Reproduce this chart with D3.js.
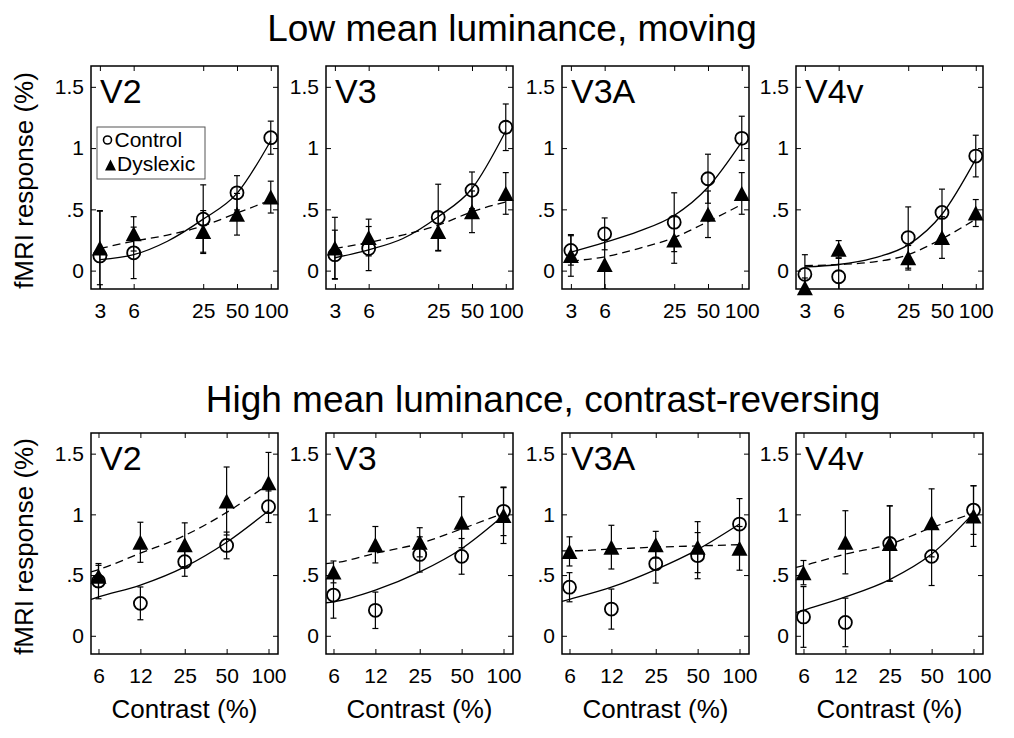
<!DOCTYPE html>
<html><head><meta charset="utf-8">
<script src="https://cdn.jsdelivr.net/npm/d3@7"></script>
<style>
html,body{margin:0;padding:0;background:#fff;}
svg{display:block;font-family:"Liberation Sans",Arial,Helvetica,sans-serif;}
</style></head>
<body>
<svg id="chart" width="1014" height="738"></svg>
<script>
// ---------------- data ----------------
const areas = ["V2", "V3", "V3A", "V4v"];
const rowTitles = ["Low mean luminance, moving", "High mean luminance, contrast-reversing"];
const yTicks = [0, 0.5, 1, 1.5];
const yTickLabels = ["0", ".5", "1", "1.5"];
const topContrasts = [3, 6, 25, 50, 100];
const topTickLabels = ["3", "6", "25", "50", "100"];
const bottomContrasts = [6, 12, 25, 50, 100];
const bottomTickLabels = ["6", "12", "25", "50", "100"];
const seriesNames = ["Control", "Dyslexic"];

// Top row (low mean luminance, moving)
const topControlMean = [
  [0.12, 0.145, 0.42, 0.635, 1.085],
  [0.13, 0.18, 0.435, 0.655, 1.17],
  [0.165, 0.30, 0.395, 0.75, 1.08],
  [-0.03, -0.05, 0.27, 0.475, 0.935]
];
const topControlErr = [
  [0.37, 0.21, 0.28, 0.14, 0.135],
  [0.20, 0.18, 0.27, 0.15, 0.19],
  [0.12, 0.13, 0.24, 0.20, 0.18],
  [0.16, 0.15, 0.25, 0.19, 0.17]
];
const topDyslexicMean = [
  [0.185, 0.30, 0.32, 0.46, 0.60],
  [0.185, 0.27, 0.32, 0.48, 0.63],
  [0.124, 0.05, 0.25, 0.46, 0.63],
  [-0.14, 0.175, 0.105, 0.27, 0.47]
];
const topDyslexicErr = [
  [0.30, 0.14, 0.17, 0.17, 0.13],
  [0.25, 0.15, 0.16, 0.17, 0.17],
  [0.17, 0.20, 0.19, 0.19, 0.17],
  [0.08, 0.07, 0.10, 0.17, 0.11]
];
const topFitContrasts = [3, 6, 12, 25, 50, 100];
const topControlFit = [
  [0.09, 0.13, 0.24, 0.42, 0.63, 1.06],
  [0.105, 0.17, 0.26, 0.44, 0.67, 1.14],
  [0.15, 0.23, 0.32, 0.45, 0.68, 1.05],
  [0.03, 0.05, 0.10, 0.21, 0.46, 0.91]
];
const topDyslexicFit = [
  [0.18, 0.24, 0.29, 0.365, 0.47, 0.575],
  [0.18, 0.23, 0.29, 0.37, 0.48, 0.56],
  [0.078, 0.113, 0.18, 0.27, 0.40, 0.54],
  [0.04, 0.05, 0.07, 0.13, 0.26, 0.42]
];

// Bottom row (high mean luminance, contrast-reversing)
const bottomControlMean = [
  [0.45, 0.267, 0.61, 0.744, 1.063],
  [0.335, 0.21, 0.67, 0.654, 1.025],
  [0.40, 0.22, 0.594, 0.66, 0.92],
  [0.155, 0.11, 0.76, 0.654, 1.035]
];
const bottomControlErr = [
  [0.145, 0.135, 0.12, 0.11, 0.13],
  [0.19, 0.15, 0.145, 0.147, 0.20],
  [0.12, 0.165, 0.16, 0.19, 0.21],
  [0.25, 0.20, 0.31, 0.24, 0.20]
];
const bottomDyslexicMean = [
  [0.49, 0.77, 0.75, 1.11, 1.26],
  [0.526, 0.75, 0.77, 0.935, 0.99],
  [0.695, 0.73, 0.75, 0.73, 0.72],
  [0.52, 0.77, 0.76, 0.93, 0.986]
];
const bottomDyslexicErr = [
  [0.09, 0.165, 0.18, 0.28, 0.25],
  [0.09, 0.15, 0.12, 0.21, 0.23],
  [0.12, 0.18, 0.11, 0.21, 0.18],
  [0.10, 0.26, 0.31, 0.28, 0.25]
];
const bottomFitContrasts = [5.3, 6, 12, 25, 50, 100];
const bottomControlFit = [
  [0.30, 0.32, 0.417, 0.567, 0.77, 1.03],
  [0.272, 0.28, 0.376, 0.526, 0.717, 0.99],
  [0.283, 0.30, 0.40, 0.545, 0.71, 0.92],
  [0.19, 0.21, 0.32, 0.463, 0.673, 1.01]
];
const bottomDyslexicFit = [
  [0.526, 0.545, 0.68, 0.826, 1.016, 1.25],
  [0.594, 0.60, 0.68, 0.76, 0.88, 1.01],
  [0.70, 0.70, 0.714, 0.73, 0.74, 0.75],
  [0.564, 0.578, 0.673, 0.755, 0.89, 1.01]
];

// ---------------- layout ----------------
const svg = d3.select("#chart");
const FONT = '"Liberation Sans",Arial,Helvetica,sans-serif';
const panelLefts = [91, 326, 562, 796];
const panelW = 187;
const rows = [
  {top: 66, h: 223, xDomain: [2.5, 116], contrasts: topContrasts, tickLabels: topTickLabels,
   cMean: topControlMean, cErr: topControlErr, dMean: topDyslexicMean, dErr: topDyslexicErr,
   fitX: topFitContrasts, cFit: topControlFit, dFit: topDyslexicFit,
   titleY: 41, labelPad: 14, xlabel: false},
  {top: 433, h: 221, xDomain: [5.3, 117], contrasts: bottomContrasts, tickLabels: bottomTickLabels,
   cMean: bottomControlMean, cErr: bottomControlErr, dMean: bottomDyslexicMean, dErr: bottomDyslexicErr,
   fitX: bottomFitContrasts, cFit: bottomControlFit, dFit: bottomDyslexicFit,
   titleY: 412, labelPad: 14, xlabel: true}
];
const yDomain = [-0.15, 1.67];

const triPath = (w, h) => `M0,${-h/2}L${w/2},${h/2}L${-w/2},${h/2}Z`;

rows.forEach((row, ri) => {
  svg.append("text")
    .attr("x", ri === 0 ? 512 : 543).attr("y", row.titleY)
    .attr("text-anchor", "middle")
    .style("font-size", "37px").style("font-family", FONT)
    .text(rowTitles[ri]);

  svg.append("text")
    .attr("transform", `translate(33,${row.top + row.h/2 + 3}) rotate(-90)`)
    .attr("text-anchor", "middle")
    .style("font-size", "26px").style("font-family", FONT)
    .text("fMRI response (%)");

  areas.forEach((area, pi) => {
    const x = d3.scaleLog().domain(row.xDomain).range([0, panelW]);
    const y = d3.scaleLinear().domain(yDomain).range([row.h, 0]);
    const g = svg.append("g").attr("transform", `translate(${panelLefts[pi]},${row.top})`);
    const clipId = `clip-${ri}-${pi}`;
    g.append("clipPath").attr("id", clipId)
      .append("rect").attr("x", 0).attr("y", 0).attr("width", panelW).attr("height", row.h);

    // axes (inward ticks on all four sides)
    const left = g.append("g").call(d3.axisLeft(y).tickValues(yTicks)
      .tickFormat((d, i) => yTickLabels[i]).tickSizeInner(-5).tickSizeOuter(0).tickPadding(7));
    const right = g.append("g").attr("transform", `translate(${panelW},0)`)
      .call(d3.axisRight(y).tickValues(yTicks).tickFormat("").tickSizeInner(-5).tickSizeOuter(0));
    const bottom = g.append("g").attr("transform", `translate(0,${row.h})`)
      .call(d3.axisBottom(x).tickValues(row.contrasts)
        .tickFormat((d, i) => row.tickLabels[i]).tickSizeInner(-5).tickSizeOuter(0).tickPadding(row.labelPad));
    const topAx = g.append("g")
      .call(d3.axisTop(x).tickValues(row.contrasts).tickFormat("").tickSizeInner(-5).tickSizeOuter(0));
    [left, right, bottom, topAx].forEach(a => {
      a.select(".domain").remove();
      a.selectAll(".tick line").attr("stroke", "#000").attr("stroke-width", 1);
      a.selectAll(".tick text").style("font-size", "21px").style("font-family", FONT).attr("fill", "#000");
    });

    // box
    g.append("rect").attr("x", 0).attr("y", 0).attr("width", panelW).attr("height", row.h)
      .attr("fill", "none").attr("stroke", "#000").attr("stroke-width", 1.5);

    // fit curves
    const plot = g.append("g").attr("clip-path", `url(#${clipId})`);
    const line = d3.line().x(d => x(d[0])).y(d => y(d[1])).curve(d3.curveMonotoneX);
    plot.append("path").datum(row.fitX.map((c, i) => [c, row.cFit[pi][i]]))
      .attr("d", line).attr("fill", "none").attr("stroke", "#000").attr("stroke-width", 1.3);
    plot.append("path").datum(row.fitX.map((c, i) => [c, row.dFit[pi][i]]))
      .attr("d", line).attr("fill", "none").attr("stroke", "#000").attr("stroke-width", 1.3)
      .attr("stroke-dasharray", "8,5");

    // error bars
    const series = [
      {mean: row.cMean[pi], err: row.cErr[pi]},
      {mean: row.dMean[pi], err: row.dErr[pi]}
    ];
    series.forEach(s => {
      row.contrasts.forEach((c, i) => {
        const cx = x(c), y1 = y(s.mean[i] + s.err[i]), y2 = y(s.mean[i] - s.err[i]);
        plot.append("line").attr("x1", cx).attr("x2", cx).attr("y1", y1).attr("y2", y2)
          .attr("stroke", "#000").attr("stroke-width", 1.2);
        [y1, y2].forEach(yy => plot.append("line").attr("x1", cx - 3).attr("x2", cx + 3)
          .attr("y1", yy).attr("y2", yy).attr("stroke", "#000").attr("stroke-width", 1.2));
      });
    });

    // markers
    row.contrasts.forEach((c, i) => {
      g.append("path").attr("d", triPath(16, 15))
        .attr("transform", `translate(${x(c)},${y(row.dMean[pi][i])})`)
        .attr("fill", "#000");
    });
    row.contrasts.forEach((c, i) => {
      g.append("circle").attr("cx", x(c)).attr("cy", y(row.cMean[pi][i])).attr("r", 6.5)
        .attr("fill", "none").attr("stroke", "#000").attr("stroke-width", 1.8);
    });

    // area label
    g.append("text").attr("x", 9).attr("y", 37)
      .style("font-size", "34px").style("font-family", FONT).text(area);

    // x label
    if (row.xlabel) {
      g.append("text").attr("x", panelW/2).attr("y", row.h + 64).attr("text-anchor", "middle")
        .style("font-size", "26px").style("font-family", FONT).text("Contrast (%)");
    }

    // legend
    if (ri === 0 && pi === 0) {
      const lg = g.append("g").attr("transform", "translate(6,61)");
      lg.append("rect").attr("x", 0).attr("y", 0).attr("width", 108).attr("height", 52)
        .attr("fill", "#fff").attr("stroke", "#555").attr("stroke-width", 1);
      lg.append("circle").attr("cx", 10.5).attr("cy", 13).attr("r", 4)
        .attr("fill", "none").attr("stroke", "#000").attr("stroke-width", 1.6);
      lg.append("text").attr("x", 17.5).attr("y", 19.5)
        .style("font-size", "21px").style("font-family", FONT).text(seriesNames[0]);
      lg.append("path").attr("d", triPath(11, 11)).attr("transform", "translate(13.5,38)").attr("fill", "#000");
      lg.append("text").attr("x", 20).attr("y", 44)
        .style("font-size", "21px").style("font-family", FONT).text(seriesNames[1]);
    }
  });
});
</script>
</body></html>
